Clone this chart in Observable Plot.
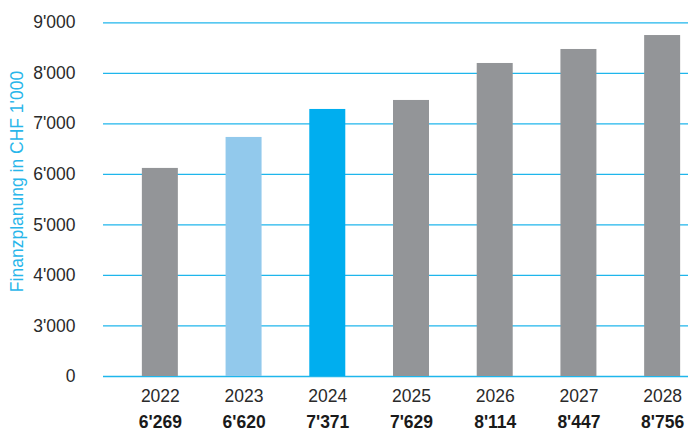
<!DOCTYPE html>
<html>
<head>
<meta charset="utf-8">
<script src="https://cdn.jsdelivr.net/npm/d3@7"></script>
<script src="https://cdn.jsdelivr.net/npm/@observablehq/plot@0.6"></script>
<style>
  html, body { margin: 0; padding: 0; background: #fff; }
  #chart { width: 688px; height: 431px; }
</style>
</head>
<body>
<div id="chart"></div>
<script>
const years = ["2022", "2023", "2024", "2025", "2026", "2027", "2028"];
const barValues = [6118, 6731, 7285, 7463, 8195, 8472, 8748];
const valueLabels = ["6'269", "6'620", "7'371", "7'629", "8'114", "8'447", "8'756"];
const barColors = ["#939598", "#92c9ec", "#00aeef", "#939598", "#939598", "#939598", "#939598"];
const yTicks = [0, 3000, 4000, 5000, 6000, 7000, 8000, 9000];
const yTitle = "Finanzplanung in CHF 1'000";

const data = years.map((y, i) => ({year: y, value: barValues[i], label: valueLabels[i], color: barColors[i]}));
const fmt = v => v === 0 ? "0" : d3.format(",")(v).replace(/,/g, "'");
const fontFamily = "'Liberation Sans', Arial, Helvetica, sans-serif";

const chart = Plot.plot({
  width: 688,
  height: 431,
  marginLeft: 103,
  marginRight: 0,
  marginTop: 22,
  marginBottom: 55,
  style: {fontFamily, fontSize: "17.5px", color: "#2a2a2a", background: "#fff"},
  x: {domain: years, range: [118, 704], paddingInner: 0.57, paddingOuter: 0.285, align: 0.5, round: false},
  y: {type: "linear", domain: yTicks, range: [376, 22.3]},
  color: {type: "identity"},
  marks: [
    Plot.ruleY(yTicks, {stroke: "#1fb6ec", strokeWidth: 1.3}),
    Plot.barY(data, {x: "year", y1: 0, y2: "value", fill: "color"}),
    Plot.axisY({ticks: yTicks, tickFormat: fmt, tickSize: 0, tickPadding: 28, label: null, fill: "#2a2a2a"}),
    Plot.axisX({tickSize: 0, tickPadding: 12.6, label: null, fill: "#2a2a2a"}),
    Plot.text(data, {x: "year", text: "label", frameAnchor: "bottom", lineAnchor: "top", dy: 39.3, fontWeight: "bold", fill: "#1a1a1a"}),
    Plot.text([yTitle], {text: d => d, frameAnchor: "left", rotate: -90, dx: -86, dy: -18, fill: "#29b6ea", lineAnchor: "middle", textAnchor: "middle"})
  ]
});
document.getElementById("chart").appendChild(chart);
</script>
</body>
</html>
